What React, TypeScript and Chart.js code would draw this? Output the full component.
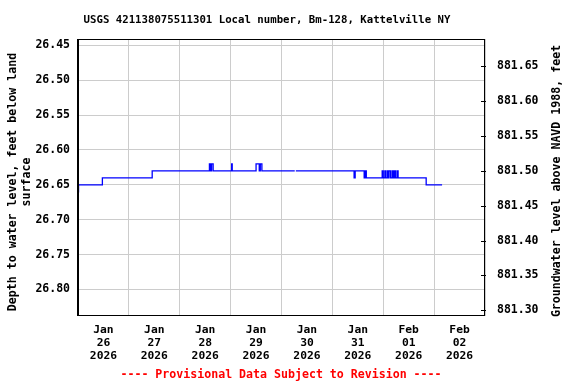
import React, { useEffect, useRef } from "react";
import { Chart, registerables } from "chart.js";

Chart.register(...registerables);

// Hours since Jan 26 2026 00:00 and depth to water (ft below land surface)
const hours = [0, 0.25, 11.5, 35, 62, 62.5, 63, 63.75, 72.5, 72.75, 84, 85.5, 86, 86.75, 102.25, 102.5, 102.75, 130.25, 130.75, 135, 135.5, 136, 143.5, 144, 144.75, 145.25, 146, 146.5, 146.75, 147.5, 148.25, 148.75, 149.25, 149.75, 150.5, 151, 164.25, 171.75];
const depths: (number | null)[] = [26.66, 26.65, 26.64, 26.63, 26.62, 26.63, 26.62, 26.63, 26.62, 26.63, 26.62, 26.63, 26.62, 26.63, 26.63, null, 26.63, 26.64, 26.63, 26.64, 26.63, 26.64, 26.63, 26.64, 26.63, 26.64, 26.63, 26.64, 26.63, 26.64, 26.63, 26.64, 26.63, 26.64, 26.63, 26.64, 26.65, 26.65];

const tickMonths = ["Jan", "Jan", "Jan", "Jan", "Jan", "Jan", "Feb", "Feb"];
const tickDays = ["26", "27", "28", "29", "30", "31", "01", "02"];
const tickYears = ["2026", "2026", "2026", "2026", "2026", "2026", "2026", "2026"];

const depthMin = 26.4408;
const depthMax = 26.8382;
const datumOffset = 908.13; // elevation = datumOffset - depth

const titleText = "USGS 421138075511301 Local number, Bm-128, Kattelville NY";
const leftTitle = ["Depth to water level, feet below land", "surface"];
const rightTitle = "Groundwater level above NAVD 1988, feet";
const footText = "---- Provisional Data Subject to Revision ----";

const FONT = "'DejaVu Sans Mono', monospace";

export default function App() {
  const ref = useRef<HTMLCanvasElement | null>(null);
  useEffect(() => {
    if (!ref.current) return;
    const textPlugin = {
      id: "usgsText",
      afterDraw(chart: any) {
        const ctx = chart.ctx;
        const a = chart.chartArea;
        ctx.save();
        // frame
        ctx.strokeStyle = "#000";
        ctx.lineWidth = 1;
        ctx.strokeRect(Math.round(a.left) + 0.5, Math.round(a.top) + 0.5, Math.round(a.right - a.left) - 1, Math.round(a.bottom - a.top) - 1);
        ctx.beginPath();
        ctx.moveTo(Math.round(a.left) - 0.5, a.top);
        ctx.lineTo(Math.round(a.left) - 0.5, a.bottom);
        ctx.stroke();
        // right axis inward ticks
        const y2 = chart.scales.y2;
        y2.ticks.forEach((t: any) => {
          const py = Math.round(y2.getPixelForValue(t.value)) + 0.5;
          ctx.beginPath();
          ctx.moveTo(a.right - 4, py);
          ctx.lineTo(a.right + 1, py);
          ctx.stroke();
        });
        ctx.fillStyle = "#000";
        ctx.textAlign = "center";
        ctx.textBaseline = "middle";
        ctx.font = `bold 10.7px ${FONT}`;
        ctx.fillText(titleText, 267, 20);
        ctx.font = `bold 11.6px ${FONT}`;
        ctx.save();
        ctx.translate(13, 182);
        ctx.rotate(-Math.PI / 2);
        ctx.fillText(leftTitle[0], 0, 0);
        ctx.fillText(leftTitle[1], 0, 14);
        ctx.restore();
        ctx.save();
        ctx.translate(557, 181);
        ctx.rotate(-Math.PI / 2);
        ctx.fillText(rightTitle, 0, 0);
        ctx.restore();
        ctx.fillStyle = "#ff0000";
        ctx.fillText(footText, 281, 375);
        ctx.restore();
      },
    };
    const chart = new Chart(ref.current, {
      type: "line",
      data: {
        datasets: [
          {
            data: hours.map((h, i) => ({ x: h, y: depths[i] })) as any,
            borderColor: "#0000ff",
            borderWidth: 1.3,
            pointRadius: 0,
            stepped: true,
            spanGaps: false,
            yAxisID: "y",
          },
        ],
      },
      options: {
        animation: false,
        responsive: false,
        layout: { padding: { top: 39, left: 0, right: 0, bottom: 0 } },
        plugins: { legend: { display: false }, tooltip: { enabled: false } },
        scales: {
          x: {
            type: "linear",
            min: 0,
            max: 192,
            afterFit(s: any) {
              s.height = 68;
              s.paddingLeft = 0;
              s.paddingRight = 0;
            },
            afterBuildTicks(s: any) {
              const t = [];
              for (let v = 0; v <= 192; v += 12) t.push({ value: v });
              s.ticks = t;
            },
            grid: {
              color: (c: any) => (c.tick && c.tick.value % 24 === 0 ? "#cccccc" : "rgba(0,0,0,0)"),
              drawTicks: false,
            },
            border: { display: false },
            ticks: {
              maxRotation: 0,
              autoSkip: false,
              padding: 8,
              color: "#000",
              font: { family: FONT, size: 11.3, weight: "bold", lineHeight: 1.15 },
              callback: (v: any) => {
                const n = Number(v);
                if (n % 24 !== 12) return "";
                const i = (n - 12) / 24;
                return [tickMonths[i], tickDays[i], tickYears[i]];
              },
            },
          },
          y: {
            type: "linear",
            position: "left",
            reverse: true,
            min: depthMin,
            max: depthMax,
            afterFit(s: any) {
              s.width = 78;
              s.paddingTop = 0;
              s.paddingBottom = 0;
            },
            grid: { color: "#cccccc", drawTicks: false },
            border: { display: false },
            ticks: {
              stepSize: 0.05,
              includeBounds: false,
              padding: 8,
              color: "#000",
              font: { family: FONT, size: 11.5, weight: "bold" },
              callback: (v: any) => Number(v).toFixed(2),
            },
          },
          y2: {
            type: "linear",
            position: "right",
            display: true,
            min: datumOffset - depthMax,
            max: datumOffset - depthMin,
            afterFit(s: any) {
              s.width = 91;
              s.paddingTop = 0;
              s.paddingBottom = 0;
            },
            grid: { drawOnChartArea: false, drawTicks: false },
            border: { display: false },
            ticks: {
              stepSize: 0.05,
              includeBounds: false,
              padding: 12,
              color: "#000",
              font: { family: FONT, size: 11.5, weight: "bold" },
              callback: (v: any) => Number(v).toFixed(2),
            },
          },
        },
      },
      plugins: [textPlugin],
    });
    return () => chart.destroy();
  }, []);
  return (
    <div style={{ position: "fixed", left: 0, top: 0, width: 576, height: 384, background: "#fff" }}>
      <canvas ref={ref} width={576} height={384} style={{ display: "block" }} />
    </div>
  );
}
